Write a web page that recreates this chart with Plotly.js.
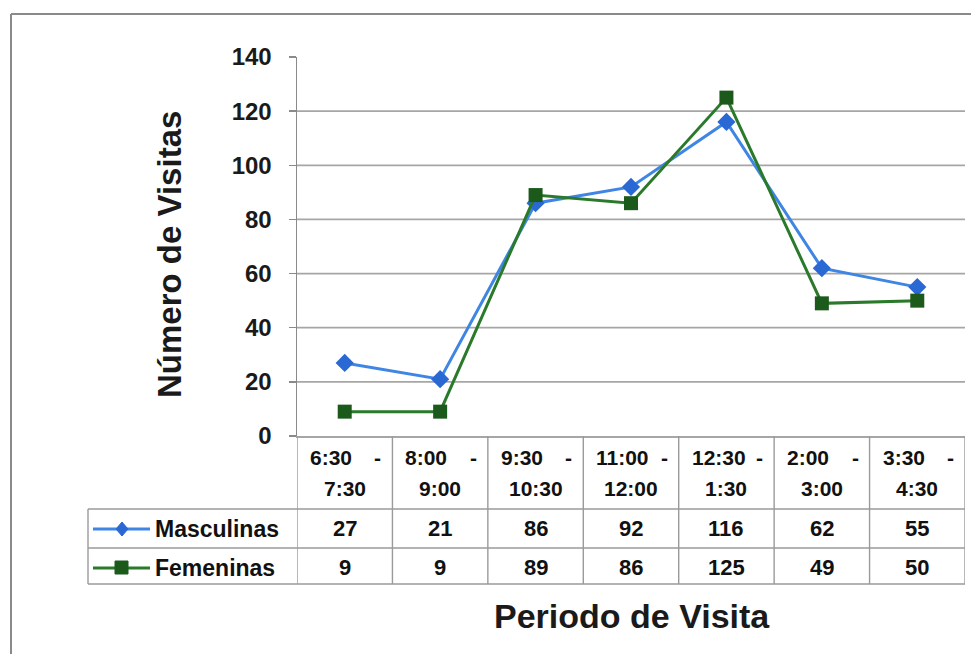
<!DOCTYPE html>
<html><head><meta charset="utf-8">
<script src="https://cdn.plot.ly/plotly-3.0.1.min.js"></script>
<style>html,body{margin:0;padding:0;background:#fff;}#chart{width:971px;height:654px;}</style>
</head><body><div id="chart"></div>
<script>
// ---- data ----
const periodos = ["6:30 - 7:30","8:00 - 9:00","9:30 - 10:30","11:00 - 12:00","12:30 - 1:30","2:00 - 3:00","3:30 - 4:30"];
const masculinas = [27,21,86,92,116,62,55];
const femeninas = [9,9,89,86,125,49,50];
const yTicks = [0,20,40,60,80,100,120,140];
const gridVals = [20,40,60,80,100,120];
const seriesNames = ["Masculinas","Femeninas"];
const yTitle = "Número de Visitas";
const xTitle = "Periodo de Visita";

// ---- layout geometry (pixels) ----
const W=971,H=654;
const px = x => x/W, py = y => 1 - y/H;
const L=297,R=965,T=57,B=436;
const rowTop=509,rowMid=548,rowBot=584,legL=88;
const FONT="Liberation Sans, Arial, sans-serif";
const blueLine="#3f86e4", blueMk="#2a68d4", greenLine="#2b7a2b", greenMk="#1c5a1c";
const gridC="#a6a6a6", tblC="#9a9a9a";

const idx = periodos.map((_,i)=>i);
const traces = [
  {x: idx, y: masculinas, name: seriesNames[0], mode:"lines+markers", type:"scatter",
   line:{color:blueLine,width:3}, marker:{symbol:"diamond",size:14,color:blueMk}},
  {x: idx, y: femeninas, name: seriesNames[1], mode:"lines+markers", type:"scatter",
   line:{color:greenLine,width:3}, marker:{symbol:"square",size:14,color:greenMk}}
];

const shapes = [];
// gridlines
gridVals.forEach(v=>shapes.push({type:"line",xref:"paper",yref:"y",x0:px(L),x1:px(R),y0:v,y1:v,line:{color:gridC,width:1.8},layer:"below"}));
// outer frame
shapes.push({type:"line",xref:"paper",yref:"paper",x0:px(11),x1:1,y0:py(14),y1:py(14),line:{color:"#8a8a8a",width:2}});
shapes.push({type:"line",xref:"paper",yref:"paper",x0:px(11),x1:px(11),y0:py(14),y1:0,line:{color:"#8a8a8a",width:2}});
// table horizontal lines
[rowTop,rowMid,rowBot].forEach(y=>shapes.push({type:"line",xref:"paper",yref:"paper",x0:px(legL),x1:px(R),y0:py(y),y1:py(y),line:{color:tblC,width:1.4}}));
// table vertical lines (category boundaries)
for(let i=-1;i<periodos.length;i++){
  shapes.push({type:"line",xref:"x",yref:"paper",x0:i+0.5,x1:i+0.5,y0:py(B),y1:py(rowBot),line:{color:tblC,width:1.4}});
}
shapes.push({type:"line",xref:"paper",yref:"paper",x0:px(legL),x1:px(legL),y0:py(rowTop),y1:py(rowBot),line:{color:tblC,width:1.4}});
// legend keys
const keyY=[529,568];
shapes.push({type:"line",xref:"paper",yref:"paper",x0:px(93),x1:px(150),y0:py(keyY[0]),y1:py(keyY[0]),line:{color:blueLine,width:3}});
shapes.push({type:"line",xref:"paper",yref:"paper",x0:px(93),x1:px(150),y0:py(keyY[1]),y1:py(keyY[1]),line:{color:greenLine,width:3}});
shapes.push({type:"path",xref:"paper",yref:"paper",
  path:`M ${px(122)} ${py(keyY[0]-7)} L ${px(128)} ${py(keyY[0])} L ${px(122)} ${py(keyY[0]+7)} L ${px(116)} ${py(keyY[0])} Z`,
  fillcolor:blueMk,line:{color:blueMk,width:1}});
shapes.push({type:"rect",xref:"paper",yref:"paper",x0:px(115),x1:px(128),y0:py(keyY[1]-7),y1:py(keyY[1]+6),fillcolor:greenMk,line:{color:greenMk,width:1}});

const annotations = [];
const hf = {family:FONT,size:21,color:"#111",weight:"bold"};
periodos.forEach((p,i)=>{
  const parts = p.split(" - ");
  annotations.push({xref:"x",yref:"paper",x:i-0.5,y:py(457),text:parts[0],showarrow:false,xanchor:"left",yanchor:"middle",xshift:11,font:hf});
  annotations.push({xref:"x",yref:"paper",x:i+0.5,y:py(457),text:"-",showarrow:false,xanchor:"right",yanchor:"middle",xshift:-9,font:hf});
  annotations.push({xref:"x",yref:"paper",x:i,y:py(488),text:parts[1],showarrow:false,xanchor:"center",yanchor:"middle",font:hf});
});
const vf = {family:FONT,size:22,color:"#111",weight:"bold"};
[masculinas,femeninas].forEach((arr,r)=>{
  arr.forEach((v,i)=>annotations.push({xref:"x",yref:"paper",x:i,y:py(keyY[r]-1),text:String(v),showarrow:false,xanchor:"center",yanchor:"middle",font:vf}));
  annotations.push({xref:"paper",yref:"paper",x:px(153),y:py(keyY[r]),text:seriesNames[r],showarrow:false,xanchor:"left",yanchor:"middle",font:{family:FONT,size:23,color:"#111",weight:"bold"}});
});
annotations.push({xref:"paper",yref:"paper",x:px(169),y:py(255),text:yTitle,textangle:-90,showarrow:false,xanchor:"center",yanchor:"middle",font:{family:FONT,size:33,color:"#1a1a1a",weight:"bold"}});
annotations.push({xref:"paper",yref:"paper",x:px(632),y:py(616),text:xTitle,showarrow:false,xanchor:"center",yanchor:"middle",font:{family:FONT,size:34,color:"#1a1a1a",weight:"bold"}});

const layout = {
  width:W,height:H,margin:{l:0,r:0,t:0,b:0},
  paper_bgcolor:"#fff",plot_bgcolor:"#fff",showlegend:false,
  xaxis:{domain:[px(L),px(R)],range:[-0.5,periodos.length-0.5],showticklabels:false,showgrid:false,zeroline:false,
         showline:true,linecolor:gridC,linewidth:1.8,ticks:"",fixedrange:true},
  yaxis:{domain:[py(B),py(T)],range:[0,140],tickvals:yTicks,showgrid:false,zeroline:false,
         showline:true,linecolor:"#8a8a8a",linewidth:1.5,ticks:"outside",ticklen:7,tickcolor:"#8a8a8a",tickwidth:1.5,
         ticklabelstandoff:12,tickfont:{family:FONT,size:24,color:"#1a1a1a",weight:"bold"},fixedrange:true},
  shapes:shapes,annotations:annotations
};
Plotly.newPlot("chart",traces,layout,{displayModeBar:false,staticPlot:true});
</script>
</body></html>
